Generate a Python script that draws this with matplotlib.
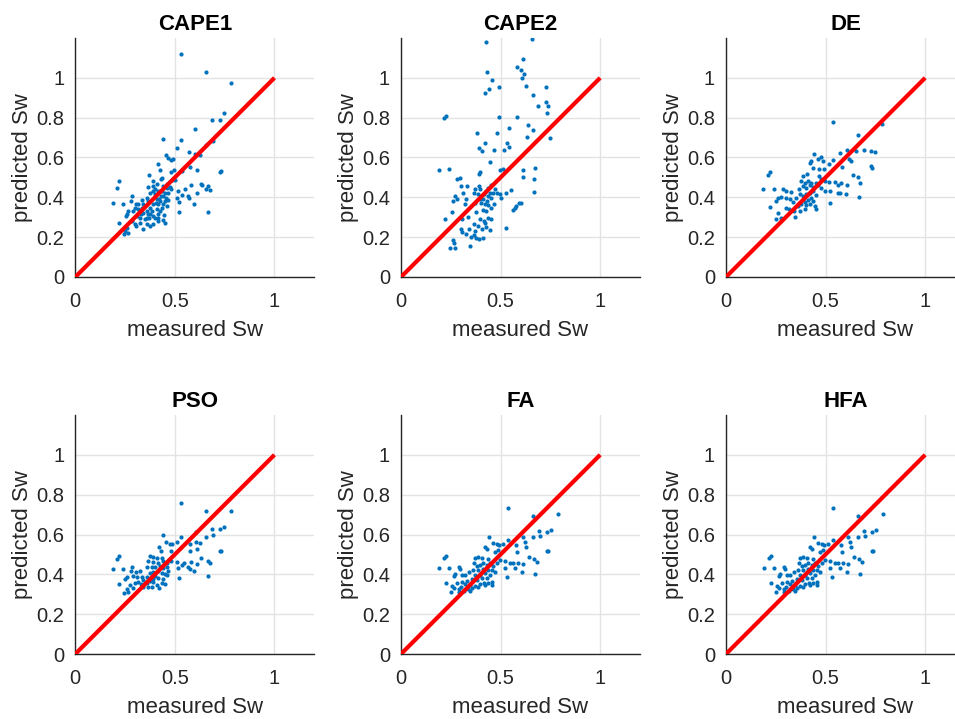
import matplotlib
matplotlib.use("Agg")
import matplotlib.pyplot as plt

# values (measured vs predicted Sw)
cape1_x = [0.533, 0.658, 0.78, 0.745, 0.687, 0.728, 0.603, 0.438, 0.533, 0.512,
           0.692, 0.658, 0.57, 0.603, 0.625, 0.455, 0.467, 0.478, 0.49, 0.417,
           0.537, 0.578, 0.613, 0.725, 0.733, 0.425, 0.483, 0.495, 0.37, 0.433,
           0.428, 0.22, 0.208, 0.392, 0.408, 0.388, 0.367, 0.458, 0.475, 0.483,
           0.517, 0.553, 0.583, 0.633, 0.638, 0.667, 0.658, 0.675, 0.612, 0.538,
           0.567, 0.572, 0.512, 0.285, 0.278, 0.187, 0.237, 0.303, 0.333, 0.358,
           0.375, 0.4, 0.417, 0.433, 0.442, 0.455, 0.467, 0.522, 0.597, 0.667,
           0.522, 0.425, 0.417, 0.433, 0.408, 0.392, 0.375, 0.383, 0.358, 0.367,
           0.342, 0.333, 0.317, 0.3, 0.292, 0.267, 0.258, 0.255, 0.308, 0.325,
           0.35, 0.372, 0.388, 0.4, 0.445, 0.442, 0.45, 0.417, 0.392, 0.375,
           0.358, 0.342, 0.325, 0.3, 0.303, 0.22, 0.25, 0.245, 0.267, 0.258,
           0.287, 0.4, 0.392, 0.442, 0.458, 0.467, 0.45, 0.43, 0.422, 0.408,
           0.405, 0.442, 0.45, 0.458, 0.363, 0.342, 0.317, 0.328, 0.375, 0.417,
           0.425, 0.417, 0.358, 0.487, 0.503]
cape1_y = [1.12, 1.03, 0.973, 0.825, 0.787, 0.787, 0.745, 0.695, 0.69, 0.647,
           0.682, 0.665, 0.63, 0.62, 0.612, 0.615, 0.598, 0.587, 0.59, 0.565,
           0.532, 0.552, 0.538, 0.525, 0.53, 0.535, 0.527, 0.535, 0.51, 0.498,
           0.49, 0.482, 0.448, 0.482, 0.465, 0.457, 0.452, 0.468, 0.452, 0.443,
           0.432, 0.443, 0.46, 0.468, 0.46, 0.457, 0.443, 0.435, 0.42, 0.41,
           0.405, 0.395, 0.398, 0.407, 0.38, 0.373, 0.368, 0.368, 0.385, 0.398,
           0.423, 0.415, 0.432, 0.432, 0.407, 0.395, 0.385, 0.377, 0.365, 0.328,
           0.327, 0.382, 0.365, 0.348, 0.34, 0.365, 0.348, 0.332, 0.332, 0.315,
           0.323, 0.348, 0.34, 0.348, 0.332, 0.332, 0.318, 0.307, 0.307, 0.298,
           0.29, 0.298, 0.307, 0.298, 0.312, 0.285, 0.273, 0.282, 0.265, 0.257,
           0.265, 0.243, 0.273, 0.265, 0.257, 0.27, 0.232, 0.215, 0.223, 0.248,
           0.282, 0.44, 0.432, 0.457, 0.448, 0.423, 0.423, 0.407, 0.39, 0.39,
           0.373, 0.368, 0.382, 0.357, 0.382, 0.365, 0.365, 0.315, 0.315, 0.315,
           0.332, 0.298, 0.298, 0.485, 0.485]

cape2_x = [0.428, 0.658, 0.615, 0.583, 0.603, 0.62, 0.607, 0.433, 0.458, 0.628,
           0.728, 0.442, 0.42, 0.49, 0.662, 0.728, 0.737, 0.69, 0.732, 0.215,
           0.225, 0.49, 0.582, 0.64, 0.662, 0.542, 0.483, 0.38, 0.633, 0.748,
           0.42, 0.533, 0.392, 0.407, 0.467, 0.515, 0.542, 0.448, 0.19, 0.24,
           0.512, 0.495, 0.398, 0.392, 0.615, 0.675, 0.612, 0.67, 0.282, 0.298,
           0.303, 0.332, 0.67, 0.525, 0.553, 0.37, 0.39, 0.395, 0.437, 0.453,
           0.47, 0.483, 0.495, 0.462, 0.445, 0.428, 0.417, 0.387, 0.367, 0.312,
           0.273, 0.282, 0.262, 0.325, 0.395, 0.437, 0.453, 0.503, 0.4, 0.42,
           0.437, 0.467, 0.453, 0.412, 0.428, 0.378, 0.37, 0.592, 0.603, 0.578,
           0.57, 0.562, 0.257, 0.22, 0.307, 0.337, 0.437, 0.453, 0.417, 0.395,
           0.367, 0.387, 0.42, 0.428, 0.445, 0.407, 0.342, 0.3, 0.307, 0.328,
           0.353, 0.367, 0.378, 0.39, 0.412, 0.525, 0.262, 0.265, 0.248, 0.27,
           0.348, 0.37, 0.433, 0.412, 0.32]
cape2_y = [1.182, 1.193, 1.093, 1.052, 1.037, 1.02, 0.997, 1.028, 0.99, 0.957,
           0.953, 0.945, 0.923, 0.953, 0.912, 0.877, 0.857, 0.857, 0.823, 0.8,
           0.807, 0.802, 0.802, 0.762, 0.74, 0.75, 0.723, 0.722, 0.703, 0.697,
           0.675, 0.673, 0.648, 0.633, 0.638, 0.64, 0.653, 0.577, 0.537, 0.543,
           0.54, 0.535, 0.528, 0.515, 0.535, 0.545, 0.503, 0.493, 0.492, 0.497,
           0.455, 0.457, 0.427, 0.423, 0.437, 0.443, 0.457, 0.44, 0.448, 0.46,
           0.443, 0.423, 0.415, 0.423, 0.423, 0.432, 0.415, 0.415, 0.423, 0.42,
           0.407, 0.39, 0.382, 0.393, 0.393, 0.407, 0.398, 0.398, 0.373, 0.365,
           0.36, 0.367, 0.345, 0.335, 0.332, 0.327, 0.37, 0.373, 0.373, 0.357,
           0.345, 0.335, 0.327, 0.29, 0.29, 0.302, 0.298, 0.293, 0.282, 0.29,
           0.265, 0.257, 0.27, 0.253, 0.235, 0.243, 0.24, 0.24, 0.227, 0.215,
           0.203, 0.21, 0.198, 0.19, 0.198, 0.248, 0.187, 0.173, 0.148, 0.148,
           0.157, 0.232, 0.382, 0.393, 0.365]

de_x = [0.537, 0.783, 0.662, 0.692, 0.653, 0.608, 0.573, 0.728, 0.748, 0.442,
        0.478, 0.462, 0.487, 0.428, 0.42, 0.515, 0.537, 0.62, 0.628, 0.437,
        0.467, 0.49, 0.583, 0.728, 0.733, 0.223, 0.212, 0.387, 0.407, 0.637,
        0.662, 0.187, 0.24, 0.287, 0.3, 0.328, 0.367, 0.378, 0.395, 0.412,
        0.428, 0.387, 0.403, 0.42, 0.437, 0.45, 0.462, 0.478, 0.495, 0.517,
        0.545, 0.562, 0.578, 0.608, 0.673, 0.495, 0.52, 0.562, 0.573, 0.6,
        0.667, 0.52, 0.262, 0.278, 0.253, 0.303, 0.32, 0.337, 0.353, 0.37,
        0.387, 0.403, 0.42, 0.437, 0.45, 0.428, 0.412, 0.395, 0.378, 0.362,
        0.42, 0.445, 0.453, 0.3, 0.317, 0.342, 0.37, 0.395, 0.22, 0.262,
        0.25, 0.278, 0.345, 0.403, 0.437, 0.465, 0.478]
de_y = [0.78, 0.77, 0.715, 0.64, 0.632, 0.64, 0.623, 0.632, 0.627, 0.62,
        0.603, 0.593, 0.582, 0.582, 0.57, 0.565, 0.587, 0.593, 0.582, 0.548,
        0.543, 0.54, 0.553, 0.557, 0.545, 0.527, 0.51, 0.507, 0.515, 0.51,
        0.503, 0.443, 0.443, 0.44, 0.432, 0.427, 0.44, 0.482, 0.473, 0.482,
        0.473, 0.457, 0.448, 0.46, 0.453, 0.473, 0.46, 0.448, 0.482, 0.477,
        0.477, 0.46, 0.47, 0.46, 0.47, 0.432, 0.432, 0.423, 0.423, 0.415,
        0.403, 0.373, 0.398, 0.403, 0.382, 0.398, 0.39, 0.377, 0.398, 0.415,
        0.407, 0.415, 0.423, 0.432, 0.41, 0.398, 0.387, 0.377, 0.365, 0.357,
        0.365, 0.357, 0.343, 0.348, 0.34, 0.332, 0.332, 0.34, 0.353, 0.32,
        0.293, 0.298, 0.303, 0.36, 0.382, 0.507, 0.49]

pso_x = [0.533, 0.78, 0.658, 0.745, 0.728, 0.687, 0.692, 0.658, 0.605, 0.438,
         0.533, 0.512, 0.455, 0.475, 0.488, 0.578, 0.605, 0.625, 0.422, 0.428,
         0.483, 0.578, 0.613, 0.725, 0.733, 0.375, 0.392, 0.22, 0.208, 0.408,
         0.433, 0.633, 0.667, 0.675, 0.367, 0.392, 0.417, 0.442, 0.458, 0.483,
         0.512, 0.547, 0.583, 0.612, 0.538, 0.567, 0.575, 0.517, 0.597, 0.187,
         0.237, 0.285, 0.278, 0.303, 0.325, 0.358, 0.383, 0.4, 0.425, 0.442,
         0.458, 0.467, 0.417, 0.392, 0.375, 0.433, 0.45, 0.522, 0.667, 0.258,
         0.292, 0.308, 0.333, 0.358, 0.4, 0.417, 0.442, 0.25, 0.342, 0.375,
         0.392, 0.317, 0.33, 0.358, 0.383, 0.408, 0.433, 0.45, 0.3, 0.275,
         0.22, 0.258, 0.245, 0.267, 0.292, 0.367, 0.342, 0.422, 0.392, 0.458]
pso_y = [0.76, 0.718, 0.718, 0.638, 0.626, 0.626, 0.6, 0.588, 0.613, 0.597,
         0.585, 0.563, 0.56, 0.55, 0.551, 0.551, 0.56, 0.558, 0.535, 0.516,
         0.516, 0.518, 0.526, 0.516, 0.516, 0.491, 0.488, 0.493, 0.475, 0.48,
         0.48, 0.483, 0.466, 0.458, 0.466, 0.463, 0.458, 0.468, 0.458, 0.466,
         0.463, 0.458, 0.463, 0.451, 0.446, 0.435, 0.426, 0.43, 0.416, 0.425,
         0.425, 0.435, 0.418, 0.413, 0.416, 0.438, 0.435, 0.438, 0.441, 0.43,
         0.435, 0.418, 0.418, 0.413, 0.405, 0.408, 0.401, 0.383, 0.393, 0.388,
         0.391, 0.385, 0.388, 0.385, 0.391, 0.38, 0.375, 0.375, 0.371, 0.368,
         0.375, 0.363, 0.35, 0.355, 0.338, 0.346, 0.355, 0.351, 0.355, 0.346,
         0.351, 0.325, 0.308, 0.313, 0.33, 0.335, 0.335, 0.33, 0.363, 0.396]

fa_x = [0.539, 0.786, 0.664, 0.751, 0.734, 0.692, 0.697, 0.661, 0.611, 0.444,
        0.536, 0.514, 0.464, 0.481, 0.492, 0.576, 0.622, 0.627, 0.422, 0.431,
        0.486, 0.581, 0.731, 0.739, 0.472, 0.217, 0.226, 0.372, 0.389, 0.409,
        0.436, 0.642, 0.669, 0.681, 0.192, 0.242, 0.289, 0.294, 0.369, 0.381,
        0.397, 0.414, 0.431, 0.447, 0.464, 0.481, 0.497, 0.522, 0.547, 0.564,
        0.586, 0.614, 0.572, 0.606, 0.522, 0.531, 0.672, 0.272, 0.264, 0.306,
        0.322, 0.339, 0.364, 0.389, 0.414, 0.439, 0.456, 0.472, 0.422, 0.397,
        0.372, 0.447, 0.431, 0.406, 0.381, 0.356, 0.331, 0.456, 0.226, 0.256,
        0.281, 0.306, 0.322, 0.347, 0.372, 0.397, 0.419, 0.436, 0.456, 0.264,
        0.289, 0.302, 0.336, 0.356, 0.389, 0.422, 0.251, 0.289, 0.314, 0.347]
fa_y = [0.735, 0.705, 0.693, 0.622, 0.613, 0.617, 0.592, 0.585, 0.588, 0.585,
        0.571, 0.552, 0.558, 0.55, 0.546, 0.546, 0.563, 0.535, 0.535, 0.525,
        0.522, 0.513, 0.518, 0.518, 0.51, 0.483, 0.493, 0.483, 0.488, 0.48,
        0.476, 0.485, 0.476, 0.463, 0.43, 0.43, 0.438, 0.427, 0.458, 0.443,
        0.446, 0.458, 0.446, 0.455, 0.443, 0.455, 0.471, 0.466, 0.455, 0.458,
        0.455, 0.45, 0.43, 0.413, 0.433, 0.388, 0.4, 0.4, 0.391, 0.396,
        0.396, 0.413, 0.421, 0.421, 0.426, 0.421, 0.421, 0.413, 0.405, 0.396,
        0.396, 0.396, 0.383, 0.38, 0.371, 0.376, 0.366, 0.36, 0.358, 0.343,
        0.355, 0.36, 0.35, 0.346, 0.343, 0.35, 0.355, 0.355, 0.346, 0.33,
        0.326, 0.338, 0.325, 0.333, 0.338, 0.346, 0.31, 0.313, 0.316, 0.316]

# HFA looks identical to FA in the reference
hfa_x = list(fa_x)
hfa_y = list(fa_y)

titles = ["CAPE1", "CAPE2", "DE", "PSO", "FA", "HFA"]
xs = [cape1_x, cape2_x, de_x, pso_x, fa_x, hfa_x]
ys = [cape1_y, cape2_y, de_y, pso_y, fa_y, hfa_y]

W, H = 955, 719
fig = plt.figure(figsize=(W / 100, H / 100), dpi=100)
plt.rcParams["font.family"] = ["Liberation Sans", "DejaVu Sans"]

lefts = [75.3, 401, 726]
bottoms = [277, 654]
aw, ah = 239, 239
dot_color = "#0072BD"
txt_color = "#262626"

for i, name in enumerate(titles):
    r, c = divmod(i, 3)
    ax = fig.add_axes([lefts[c] / W, (H - bottoms[r]) / H, aw / W, ah / H])
    ax.plot(xs[i], ys[i], "o", ms=3, color=dot_color, mec="none", zorder=3)
    ax.plot([0, 1], [0, 1], "-", color="#ff0000", lw=3, zorder=4,
            solid_capstyle="butt")
    ax.set_xlim(0, 1.2)
    ax.set_ylim(0, 1.2)
    ax.set_xticks([0, 0.5, 1])
    ax.set_xticklabels(["0", "0.5", "1"])
    ax.set_yticks([0, 0.2, 0.4, 0.6, 0.8, 1])
    ax.set_yticklabels(["0", "0.2", "0.4", "0.6", "0.8", "1"])
    ax.grid(True, color="#e3e3e3", lw=1)
    ax.set_axisbelow(True)
    for s in ("top", "right"):
        ax.spines[s].set_visible(False)
    for s in ("left", "bottom"):
        ax.spines[s].set_color(txt_color)
        ax.spines[s].set_linewidth(1)
    ax.tick_params(direction="in", length=0, colors=txt_color, labelsize=14.5)
    ax.tick_params(axis="x", pad=11)
    ax.tick_params(axis="y", pad=8)
    ax.set_xlabel("measured Sw", fontsize=16, color=txt_color, labelpad=6)
    ax.set_ylabel("predicted Sw", fontsize=16, color=txt_color, labelpad=2)
    ax.set_title(name, fontsize=16, fontweight="bold", color="black", pad=6)

fig.savefig("out.png", dpi=100)
